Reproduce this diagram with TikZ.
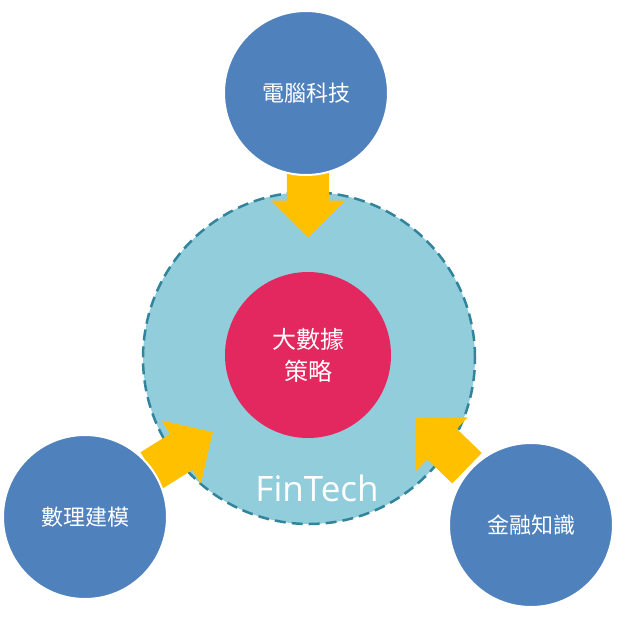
\documentclass[tikz,border=0pt]{standalone}
\usepackage{fontspec}
\setmainfont{Open Sans}
\newfontfamily\cjk{Noto Sans CJK TC}
\usetikzlibrary{shapes.arrows}
\definecolor{topicblue}{HTML}{4F81BD}
\definecolor{fintechblue}{HTML}{92CDDC}
\definecolor{fintechedge}{HTML}{31849B}
\definecolor{corered}{HTML}{E2285E}
\definecolor{arrowyellow}{HTML}{FFC000}
\tikzset{
  topic/.style={circle,fill=topicblue,draw=white,line width=2pt,minimum size=164pt,
    inner sep=0pt,text=white,font=\cjk\fontsize{22}{26}\selectfont},
  feed/.style={single arrow,fill=arrowyellow,minimum height=72pt,inner xsep=0pt,
    inner ysep=21pt,single arrow head extend=16pt,anchor=tip}
}
\begin{document}
\begin{tikzpicture}[x=1pt,y=-1pt]
    \useasboundingbox (0,0) rectangle (621,616);

    % FinTech ring and the core
    \node[circle,fill=fintechblue,draw=fintechedge,line width=2.5pt,
      dash pattern=on 11pt off 6pt,minimum size=332pt] (fintech) at (309,358) {};
    \node[circle,fill=corered,minimum size=166pt,inner sep=0pt,text=white,align=center,
      font=\cjk\fontsize{24}{32}\selectfont] (core) at (308,355) {大數據\\策略};
    \node[text=white,font=\fontsize{35}{40}\selectfont] (label) at (317,488) {FinTech};

    % arrows into the ring, placed by their tips
    \node[feed,rotate=-90] (feedtop) at (308,238) {};
    \node[feed,rotate=32] (feedleft) at (213,432) {};
    \node[feed,rotate=136] (feedright) at (415,418) {};

    % the three topics
    \node[topic] (tech) at (306,93) {電腦科技};
    \node[topic] (model) at (85,517) {數理建模};
    \node[topic] (finance) at (531,525) {金融知識};
\end{tikzpicture}
\end{document}
